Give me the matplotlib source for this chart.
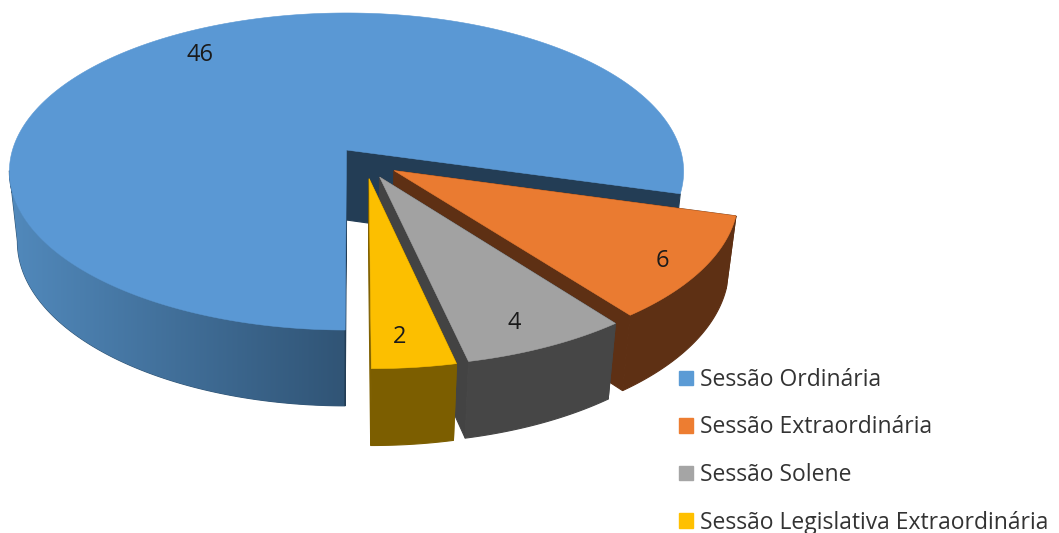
import numpy as np
import matplotlib
matplotlib.use("Agg")
import matplotlib.pyplot as plt
from matplotlib.patches import Patch, Polygon

categories = ["Sessão Ordinária", "Sessão Extraordinária", "Sessão Solene",
              "Sessão Legislativa Extraordinária"]
values = [46, 6, 4, 2]

top_colors = ["#5A98D4", "#EA7B31", "#A2A2A2", "#FCBF00"]
face_colors = ["#233D55", "#5E3014", "#434343", "#7F6000"]
wall_colors = ["#325676", "#5E3014", "#464646", "#7C5E00"]
offsets = [(0.0, 0.0), (0.14, -0.13), (0.097, -0.17), (0.066, -0.18)]
label_pos = [(200, 55), (662, 261), (514, 323), (400, 337)]

XC, YC, A, B, D, K, M = 346.5, 150.0, 334.0, 155.6, 71.7, 0.1356, 0.024
START = 180.2


def project(u, v, z=0.0):
    s = 1.0 / (1.0 + K * v + M * z)
    return XC + A * u * s, YC - B * v * s + D * z * s


def rim(ang, off, z=0.0):
    t = np.radians(ang)
    return project(off[0] + np.sin(t), off[1] + np.cos(t), z)


fig = plt.figure(figsize=(10.59, 5.33), dpi=100)
ax = fig.add_axes([0, 0, 1, 1])
ax.axis("off")

total = sum(values)
a0 = START
for i, val in enumerate(values):
    a1 = a0 + val / total * 360.0
    off = offsets[i]
    angs = np.linspace(a0, a1, max(12, int(a1 - a0) * 2))

    # outer wall: front-facing angles up to the silhouette of the disc
    back = np.cos(np.radians(angs)) > -K
    n = int(np.argmax(back)) + 1 if back.any() else len(angs)
    run = angs[:n]
    wall = [rim(t, off) for t in run] + [rim(t, off, 1.0) for t in run[::-1]]
    patch = Polygon(wall, closed=True, fc=wall_colors[i], ec=wall_colors[i], lw=0.8)
    ax.add_patch(patch)
    if i == 0:
        grad = np.linspace(0, 1, 200)[None, :, None]
        left = np.array([0.32, 0.54, 0.74])
        right = np.array([0.19, 0.33, 0.46])
        img = ax.imshow(left + (right - left) * grad, extent=(5, 346, 412, 130),
                        aspect="auto", interpolation="bilinear", zorder=1)
        img.set_clip_path(patch)
        patch.set_zorder(0.9)

    # cut faces
    c_top = project(off[0], off[1])
    c_bot = project(off[0], off[1], 1.0)
    for e in (a0, a1):
        ax.add_patch(Polygon([c_top, c_bot, rim(e, off, 1.0), rim(e, off)], closed=True,
                             fc=face_colors[i], ec=face_colors[i], lw=0.8, zorder=1 + i))

    # top surface
    top = [c_top] + [rim(t, off) for t in angs]
    ax.add_patch(Polygon(top, closed=True, fc=top_colors[i], ec=top_colors[i], lw=0.4,
                         zorder=1.2 + i))
    if i > 0:
        patch.set_zorder(1.1 + i)

    ax.text(label_pos[i][0], label_pos[i][1], str(val), ha="center", va="center",
            fontsize=17, family="Open Sans", color="#1a1a1a", zorder=10)
    a0 = a1

ax.set_xlim(0, 1059)
ax.set_ylim(533, 0)

handles = [Patch(facecolor=c, edgecolor=c) for c in ["#5B9BD5", "#ED7D31", "#A5A5A5", "#FFC000"]]
leg = ax.legend(handles, categories, loc="upper left", bbox_to_anchor=(672 / 1059, 1 - 361 / 533),
                bbox_transform=ax.transAxes, frameon=False,
                prop={"family": "Open Sans", "size": 16.5},
                handlelength=0.6, handleheight=0.6, handletextpad=0.3,
                labelspacing=1.03, borderpad=0.3, borderaxespad=0)
leg.set_zorder(20)
for t in leg.get_texts():
    t.set_color("#333333")

fig.savefig("out.png", dpi=100)
